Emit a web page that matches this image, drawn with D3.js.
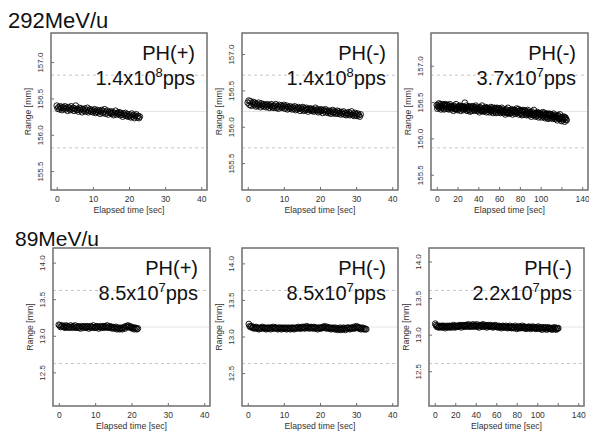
<!DOCTYPE html>
<html><head><meta charset="utf-8">
<script src="https://cdn.jsdelivr.net/npm/d3@7"></script>
<style>
html,body{margin:0;padding:0;background:#fff;}
svg{display:block;}
text{font-family:"Liberation Sans",Arial,Helvetica,sans-serif;}
</style></head>
<body>
<svg id="chart" width="589" height="432"></svg>
<script>
// ---------- data ----------
const energyTitles = ["292MeV/u", "89MeV/u"];
const polarity = ["PH(+)", "PH(-)", "PH(-)", "PH(+)", "PH(-)", "PH(-)"];
const intensityMantissa = ["1.4", "1.4", "3.7", "8.5", "8.5", "2.2"];
const intensityExponent = ["8", "8", "7", "7", "7", "7"];
const xMax = [40, 40, 140, 40, 40, 140];
const refMean = [156.32, 156.21, 156.37, 13.12, 13.13, 13.105];
const yTicksTop = [155.5, 156.0, 156.5, 157.0];
const yTicksBottom = [12.5, 13.0, 13.5, 14.0];
const xTicksShort = [0, 10, 20, 30, 40];
const xTicksLong = [0, 20, 40, 60, 80, 100, 120, 140];
const xTickLabelsLong = ["0", "20", "40", "60", "80", "100", "", "140"];
const sampleStart = [0, 0, 0, 0, 0.3, 0.5];
const sampleStep = [0.25, 0.25, 0.5, 0.25, 0.25, 0.75];

const range1 = [156.40,156.36,156.38,156.35,156.39,156.37,156.34,156.38,156.36,156.39,
156.35,156.37,156.33,156.38,156.36,156.34,156.39,156.35,156.37,156.33,
156.36,156.40,156.34,156.35,156.32,156.37,156.34,156.36,156.31,156.35,
156.33,156.36,156.32,156.34,156.37,156.31,156.33,156.35,156.32,156.34,
156.31,156.33,156.35,156.30,156.32,156.34,156.31,156.33,156.29,156.32,
156.34,156.30,156.32,156.35,156.29,156.31,156.33,156.28,156.31,156.30,
156.32,156.29,156.31,156.27,156.30,156.33,156.28,156.30,156.29,156.31,
156.27,156.30,156.28,156.25,156.29,156.27,156.30,156.26,156.28,156.25,
156.28,156.26,156.24,156.29,156.25,156.27,156.23,156.26,156.28,156.24,
156.26,156.23,156.25];

const range2 = [156.33,156.36,156.30,156.35,156.29,156.32,156.34,156.30,156.33,156.28,
156.31,156.29,156.33,156.30,156.27,156.32,156.29,156.31,156.28,156.30,
156.27,156.31,156.28,156.30,156.26,156.29,156.31,156.27,156.29,156.26,
156.29,156.31,156.26,156.28,156.25,156.30,156.27,156.29,156.26,156.28,
156.30,156.25,156.27,156.29,156.24,156.27,156.25,156.28,156.26,156.24,
156.27,156.25,156.28,156.23,156.26,156.24,156.27,156.25,156.22,156.26,
156.24,156.27,156.22,156.25,156.23,156.26,156.24,156.21,156.25,156.23,
156.25,156.22,156.24,156.21,156.23,156.26,156.22,156.24,156.20,156.23,
156.21,156.24,156.22,156.19,156.23,156.21,156.24,156.20,156.22,156.19,
156.22,156.20,156.18,156.21,156.23,156.19,156.21,156.18,156.20,156.22,
156.18,156.21,156.19,156.17,156.20,156.18,156.21,156.17,156.19,156.16,
156.19,156.17,156.20,156.16,156.18,156.21,156.16,156.18,156.15,156.19,
156.17,156.15,156.18,156.16,156.14,156.17];

const range3 = [156.46,156.41,156.45,156.43,156.48,156.42,156.44,156.47,156.40,156.45,
156.43,156.47,156.42,156.46,156.40,156.45,156.47,156.41,156.44,156.46,
156.46,156.41,156.43,156.40,156.45,156.47,156.42,156.44,156.40,156.43,
156.42,156.44,156.38,156.45,156.41,156.40,156.43,156.47,156.40,156.41,
156.39,156.43,156.44,156.40,156.45,156.42,156.38,156.44,156.43,156.41,
156.44,156.39,156.43,156.41,156.49,156.40,156.42,156.45,156.38,156.43,
156.40,156.44,156.39,156.43,156.37,156.42,156.44,156.38,156.41,156.43,
156.44,156.39,156.41,156.38,156.43,156.45,156.40,156.42,156.38,156.41,
156.40,156.42,156.36,156.43,156.39,156.38,156.41,156.45,156.38,156.39,
156.37,156.41,156.42,156.38,156.43,156.40,156.36,156.42,156.41,156.39,
156.41,156.36,156.40,156.38,156.43,156.37,156.39,156.42,156.35,156.40,
156.38,156.42,156.37,156.41,156.35,156.40,156.42,156.36,156.39,156.41,
156.41,156.36,156.38,156.35,156.40,156.42,156.37,156.39,156.35,156.38,
156.37,156.39,156.33,156.40,156.36,156.35,156.38,156.42,156.35,156.36,
156.34,156.38,156.39,156.35,156.40,156.37,156.33,156.39,156.38,156.36,
156.39,156.34,156.38,156.36,156.41,156.35,156.37,156.40,156.33,156.38,
156.35,156.39,156.34,156.38,156.32,156.37,156.39,156.33,156.36,156.38,
156.38,156.33,156.35,156.32,156.37,156.39,156.34,156.36,156.32,156.35,
156.34,156.36,156.30,156.37,156.33,156.32,156.35,156.39,156.32,156.33,
156.30,156.34,156.35,156.31,156.36,156.33,156.29,156.35,156.34,156.32,
156.34,156.29,156.33,156.31,156.36,156.30,156.32,156.35,156.28,156.33,
156.30,156.34,156.29,156.33,156.27,156.32,156.34,156.28,156.31,156.33,
156.33,156.28,156.30,156.27,156.32,156.34,156.29,156.31,156.27,156.30,
156.29,156.31,156.25,156.32,156.28,156.27,156.30,156.33,156.27,156.28,
156.24,156.28,156.29,156.25,156.30,156.27,156.23,156.29,156.28,156.26,
156.25];

const range4 = [13.15,13.14,13.12,13.13,13.14,13.12,13.13,13.11,13.14,13.12,
13.13,13.11,13.12,13.14,13.12,13.11,13.13,13.12,13.14,13.11,
13.12,13.13,13.11,13.12,13.10,13.13,13.12,13.11,13.13,13.12,
13.11,13.13,13.12,13.10,13.12,13.13,13.11,13.12,13.14,13.11,
13.12,13.11,13.13,13.12,13.10,13.12,13.13,13.11,13.12,13.13,
13.11,13.13,13.12,13.14,13.11,13.12,13.13,13.11,13.12,13.10,
13.12,13.11,13.10,13.12,13.09,13.11,13.10,13.09,13.11,13.10,
13.09,13.11,13.12,13.10,13.13,13.12,13.14,13.12,13.13,13.11,
13.12,13.10,13.11,13.09,13.11,13.10,13.09,13.10];

const range5 = [13.17,13.14,13.13,13.14,13.12,13.13,13.11,13.12,13.13,13.11,
13.12,13.10,13.11,13.12,13.11,13.13,13.12,13.11,13.12,13.10,
13.11,13.12,13.11,13.12,13.10,13.12,13.11,13.13,13.11,13.12,
13.12,13.11,13.10,13.12,13.11,13.12,13.10,13.11,13.12,13.11,
13.11,13.12,13.10,13.11,13.12,13.11,13.10,13.12,13.11,13.12,
13.10,13.11,13.12,13.11,13.12,13.13,13.11,13.12,13.11,13.13,
13.12,13.13,13.11,13.12,13.14,13.12,13.13,13.11,13.12,13.13,
13.12,13.11,13.13,13.12,13.11,13.12,13.10,13.12,13.11,13.12,
13.11,13.12,13.13,13.12,13.14,13.12,13.11,13.13,13.12,13.11,
13.12,13.10,13.11,13.12,13.11,13.10,13.12,13.11,13.09,13.11,
13.10,13.12,13.09,13.11,13.10,13.12,13.11,13.09,13.11,13.12,
13.11,13.12,13.10,13.11,13.12,13.11,13.13,13.11,13.12,13.14,
13.12,13.13,13.11,13.12,13.10,13.11,13.12,13.10,13.11,13.10,
13.10];

const range6 = [13.15,13.13,13.11,13.12,13.10,13.11,13.12,13.10,13.11,13.12,
13.10,13.12,13.11,13.09,13.11,13.12,13.10,13.11,13.12,13.10,
13.11,13.12,13.10,13.11,13.13,13.11,13.10,13.12,13.11,13.12,
13.12,13.11,13.13,13.12,13.10,13.12,13.13,13.11,13.12,13.13,
13.11,13.13,13.12,13.14,13.11,13.12,13.13,13.11,13.12,13.14,
13.12,13.11,13.13,13.12,13.14,13.11,13.12,13.10,13.13,13.12,
13.13,13.11,13.14,13.12,13.11,13.13,13.12,13.10,13.12,13.13,
13.11,13.12,13.13,13.11,13.12,13.10,13.12,13.11,13.13,13.11,
13.12,13.10,13.11,13.12,13.10,13.11,13.09,13.11,13.12,13.10,
13.11,13.10,13.12,13.10,13.09,13.11,13.10,13.12,13.10,13.09,
13.10,13.11,13.09,13.10,13.12,13.10,13.08,13.10,13.11,13.09,
13.11,13.09,13.10,13.12,13.10,13.09,13.11,13.10,13.08,13.10,
13.10,13.09,13.11,13.10,13.08,13.10,13.09,13.11,13.09,13.10,
13.09,13.08,13.10,13.09,13.11,13.09,13.08,13.10,13.09,13.07,
13.10,13.09,13.08,13.10,13.09,13.07,13.09,13.10,13.08,13.09,
13.08,13.09,13.07,13.09,13.08,13.10,13.08,13.07,13.09,13.08,
13.09];

const rangeSeries = [range1, range2, range3, range4, range5, range6];

// ---------- layout ----------
const svg = d3.select("#chart");
const frames = [
  {x: 51, y: 33, w: 156, h: 157},
  {x: 242, y: 33, w: 156, h: 157},
  {x: 431, y: 33, w: 157, h: 157},
  {x: 53, y: 248, w: 157, h: 158},
  {x: 242, y: 248, w: 156, h: 158},
  {x: 429, y: 248, w: 155, h: 158}
];
const frameColor = "#6e6e6e";

frames.forEach((f, i) => {
  const g = svg.append("g").attr("transform", `translate(${f.x},${f.y})`);
  const xm = xMax[i];
  const ext = xm * 0.04;
  const x = d3.scaleLinear().domain([-ext, xm + ext]).range([0, f.w]);
  const m = refMean[i];
  const y = d3.scaleLinear().domain([m - 1.08, m + 1.08]).range([f.h, 0]);
  const top = i < 3;
  const yTicks = top ? yTicksTop : yTicksBottom;
  const longX = xm > 40;
  const xTicks = longX ? xTicksLong : xTicksShort;

  // reference lines
  g.append("line").attr("x1", 0).attr("x2", f.w)
    .attr("y1", y(m)).attr("y2", y(m))
    .attr("stroke", "#e4e4e4").attr("stroke-width", 1);
  [m - 0.5, m + 0.5].forEach(v => {
    g.append("line").attr("x1", 0).attr("x2", f.w)
      .attr("y1", y(v)).attr("y2", y(v))
      .attr("stroke", "#c4c4c4").attr("stroke-width", 1)
      .attr("stroke-dasharray", "3,3");
  });

  // points
  const data = rangeSeries[i].map((v, k) => ({t: sampleStart[i] + k * sampleStep[i], v}));
  g.append("g").selectAll("circle").data(data).join("circle")
    .attr("cx", d => x(d.t)).attr("cy", d => y(d.v)).attr("r", 2.9)
    .attr("fill", "none").attr("stroke", "#000").attr("stroke-width", 0.9);

  // axes (ticks inward)
  const xAxis = d3.axisBottom(x).tickValues(xTicks).tickSize(-3).tickPadding(6)
    .tickFormat((d, k) => longX ? xTickLabelsLong[k] : d3.format("d")(d));
  const gx = g.append("g").attr("transform", `translate(0,${f.h})`).call(xAxis);
  gx.select(".domain").remove();
  gx.selectAll("line").attr("stroke", frameColor);
  gx.selectAll("text").attr("font-size", 8.5).attr("fill", "#333")
    .attr("font-family", "Liberation Sans, Arial, sans-serif");

  const yAxis = d3.axisLeft(y).tickValues(yTicks).tickSize(-3).tickPadding(0)
    .tickFormat(d3.format(".1f"));
  const gy = g.append("g").call(yAxis);
  gy.select(".domain").remove();
  gy.selectAll("line").attr("stroke", frameColor);
  gy.selectAll("text").attr("font-size", 8).attr("fill", "#333")
    .attr("font-family", "Liberation Sans, Arial, sans-serif")
    .attr("text-anchor", "middle")
    .attr("transform", "translate(-11,0) rotate(-90)")
    .attr("x", 0).attr("y", 0).attr("dy", "0.35em");

  // frame
  g.append("rect").attr("x", 0).attr("y", 0).attr("width", f.w).attr("height", f.h)
    .attr("fill", "none").attr("stroke", frameColor).attr("stroke-width", 1.5);

  // axis titles
  g.append("text").attr("x", f.w / 2).attr("y", f.h + 23)
    .attr("text-anchor", "middle").attr("font-size", 8.7).attr("fill", "#333")
    .text("Elapsed time [sec]");
  g.append("text").attr("transform", `translate(-20,${f.h / 2}) rotate(-90)`)
    .attr("text-anchor", "middle").attr("font-size", 8.7).attr("fill", "#333")
    .text("Range [mm]");

  // annotations
  g.append("text").attr("x", f.w - 12).attr("y", 27)
    .attr("text-anchor", "end").attr("font-size", 20).attr("fill", "#111")
    .text(polarity[i]);
  const t2 = g.append("text").attr("x", f.w - 12).attr("y", 52)
    .attr("text-anchor", "end").attr("font-size", 20).attr("fill", "#111");
  t2.append("tspan").text(intensityMantissa[i] + "x10");
  t2.append("tspan").attr("font-size", 13).attr("dy", -8).text(intensityExponent[i]);
  t2.append("tspan").attr("dy", 8).text("pps");
});

svg.append("text").attr("x", 8).attr("y", 28).attr("font-size", 22).attr("fill", "#111")
  .text(energyTitles[0]);
svg.append("text").attr("x", 15).attr("y", 246).attr("font-size", 21).attr("fill", "#111")
  .text(energyTitles[1]);
</script>
</body></html>
